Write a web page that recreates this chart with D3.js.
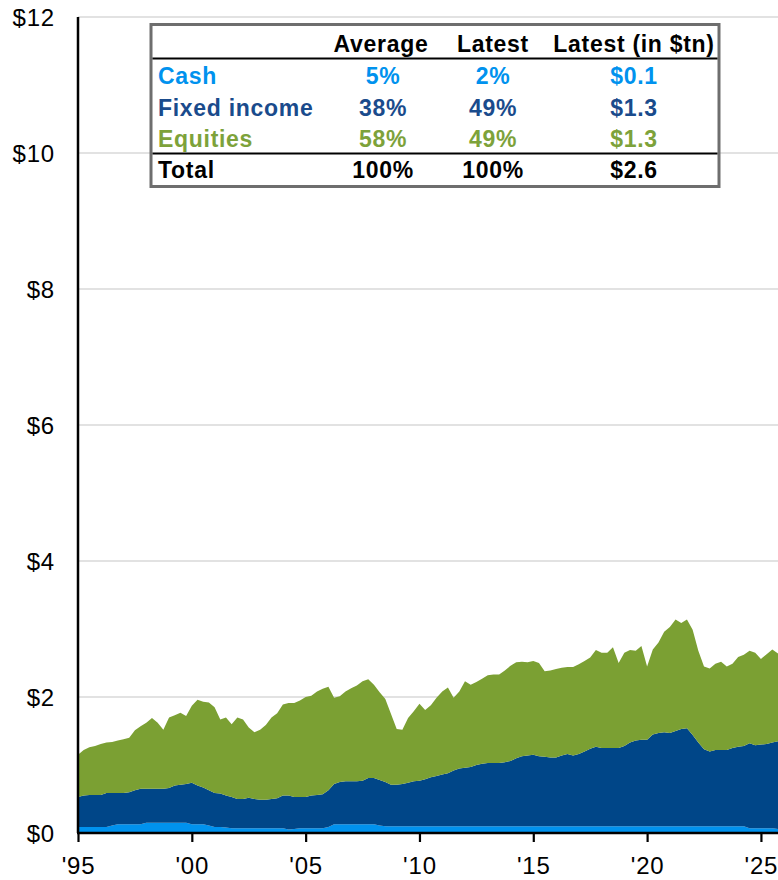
<!DOCTYPE html>
<html>
<head>
<meta charset="utf-8">
<script src="https://cdn.jsdelivr.net/npm/d3@7"></script>
<style>
  html, body { margin: 0; padding: 0; background: #fff; }
  svg { display: block; font-family: "Liberation Sans", Arial, sans-serif; }
</style>
</head>
<body>
<svg id="chart" width="778" height="880"></svg>
<script>
// Quarterly asset allocation, $ trillions, 1995 Q1 onward (one line per year)
const cash = [
  0.09, 0.09, 0.09, 0.09,
  0.09, 0.09, 0.11, 0.13,
  0.13, 0.13, 0.13, 0.13,
  0.15, 0.15, 0.15, 0.15,
  0.15, 0.15, 0.15, 0.15,
  0.13, 0.13, 0.13, 0.11,
  0.09, 0.09, 0.08, 0.07,
  0.07, 0.07, 0.07, 0.07,
  0.07, 0.07, 0.07, 0.07,
  0.07, 0.05, 0.06, 0.07,
  0.07, 0.07, 0.07, 0.07,
  0.09, 0.13, 0.13, 0.13,
  0.13, 0.13, 0.13, 0.13,
  0.13, 0.11, 0.10, 0.10,
  0.10, 0.10, 0.10, 0.10,
  0.10, 0.10, 0.10, 0.10,
  0.10, 0.10, 0.10, 0.10,
  0.10, 0.10, 0.10, 0.10,
  0.10, 0.10, 0.10, 0.10,
  0.10, 0.10, 0.10, 0.10,
  0.10, 0.10, 0.10, 0.10,
  0.10, 0.10, 0.10, 0.10,
  0.10, 0.10, 0.10, 0.10,
  0.10, 0.10, 0.10, 0.10,
  0.10, 0.10, 0.10, 0.10,
  0.10, 0.10, 0.10, 0.10,
  0.10, 0.10, 0.10, 0.10,
  0.10, 0.10, 0.10, 0.10,
  0.10, 0.10, 0.10, 0.10,
  0.10, 0.10, 0.07, 0.07,
  0.07, 0.07, 0.07, 0.06
];

const fixedIncome = [
  0.44, 0.46, 0.47, 0.47,
  0.47, 0.50, 0.48, 0.46,
  0.46, 0.47, 0.50, 0.52,
  0.50, 0.50, 0.50, 0.50,
  0.51, 0.55, 0.56, 0.57,
  0.61, 0.57, 0.54, 0.52,
  0.50, 0.49, 0.47, 0.46,
  0.43, 0.43, 0.45, 0.43,
  0.42, 0.42, 0.43, 0.44,
  0.48, 0.50, 0.47, 0.46,
  0.46, 0.48, 0.49, 0.50,
  0.54, 0.59, 0.62, 0.63,
  0.63, 0.63, 0.64, 0.68,
  0.68, 0.67, 0.65, 0.61,
  0.61, 0.62, 0.64, 0.66,
  0.67, 0.69, 0.72, 0.74,
  0.76, 0.78, 0.82, 0.85,
  0.86, 0.87, 0.90, 0.92,
  0.93, 0.93, 0.93, 0.94,
  0.96, 1.00, 1.03, 1.04,
  1.05, 1.03, 1.02, 1.01,
  1.01, 1.04, 1.06, 1.04,
  1.06, 1.10, 1.14, 1.17,
  1.15, 1.15, 1.15, 1.15,
  1.18, 1.23, 1.26, 1.27,
  1.27, 1.35, 1.37, 1.38,
  1.37, 1.40, 1.43, 1.44,
  1.34, 1.23, 1.13, 1.10,
  1.12, 1.12, 1.12, 1.15,
  1.17, 1.18, 1.25, 1.22,
  1.23, 1.24, 1.26, 1.29
];

const equities = [
  0.62, 0.67, 0.70, 0.72,
  0.75, 0.74, 0.75, 0.77,
  0.79, 0.80, 0.88, 0.92,
  0.97, 1.04, 0.97, 0.87,
  1.04, 1.03, 1.06, 1.00,
  1.13, 1.26, 1.26, 1.29,
  1.26, 1.09, 1.15, 1.07,
  1.20, 1.17, 1.03, 0.98,
  1.03, 1.10, 1.20, 1.25,
  1.34, 1.36, 1.38, 1.42,
  1.47, 1.47, 1.52, 1.55,
  1.52, 1.27, 1.26, 1.32,
  1.37, 1.41, 1.46, 1.45,
  1.37, 1.29, 1.22, 1.04,
  0.82, 0.80, 0.95, 1.03,
  1.13, 1.02, 1.06, 1.15,
  1.22, 1.26, 1.07, 1.13,
  1.27, 1.21, 1.22, 1.25,
  1.29, 1.30, 1.30, 1.35,
  1.40, 1.41, 1.39, 1.37,
  1.38, 1.37, 1.26, 1.28,
  1.30, 1.29, 1.28, 1.30,
  1.32, 1.33, 1.34, 1.42,
  1.40, 1.40, 1.48, 1.25,
  1.37, 1.36, 1.32, 1.38,
  1.08, 1.25, 1.33, 1.48,
  1.56, 1.64, 1.56, 1.60,
  1.55, 1.35, 1.22, 1.22,
  1.27, 1.30, 1.23, 1.24,
  1.32, 1.34, 1.36, 1.36,
  1.26, 1.32, 1.37, 1.29
];

// Quarter start times as fractional years
const startYear = 1995;
const quarters = cash.map((_, i) => startYear + i / 4);

// Axis ticks
const yTicks = [0, 2, 4, 6, 8, 10, 12];
const xTicks = [1995, 2000, 2005, 2010, 2015, 2020, 2025];

// Summary table
const tableHeaders = ["Average", "Latest", "Latest (in $tn)"];
const tableRows = ["Cash", "Fixed income", "Equities", "Total"];
const averageShare = ["5%", "38%", "58%", "100%"];
const latestShare = ["2%", "49%", "49%", "100%"];
const latestTn = ["$0.1", "$1.3", "$1.3", "$2.6"];

const seriesKeys = ["cash", "fixedIncome", "equities"];
const colors = {
  cash: "#0092EE",
  fixedIncome: "#004688",
  equities: "#7BA033",
  total: "#000000"
};
const rowColors = [colors.cash, "#1A4B8C", "#7DA23A", colors.total];

const svg = d3.select("#chart");
const margin = { left: 78, right: 0, top: 17, bottom: 47 };
const W = 778, H = 880;

const x = d3.scaleLinear()
  .domain([quarters[0], quarters[quarters.length - 1]])
  .range([margin.left, W - margin.right]);
const y = d3.scaleLinear().domain([0, 12]).range([H - margin.bottom, margin.top]);

// Horizontal gridlines
svg.append("g")
  .selectAll("line")
  .data(yTicks.filter(d => d > 0))
  .join("line")
  .attr("x1", margin.left).attr("x2", W - margin.right)
  .attr("y1", d => y(d)).attr("y2", d => y(d))
  .attr("stroke", "#d9d9d9").attr("stroke-width", 1.3);

// Stacked areas
const rows = quarters.map((q, i) => ({
  q, cash: cash[i], fixedIncome: fixedIncome[i], equities: equities[i]
}));
const stacked = d3.stack().keys(seriesKeys)(rows);
const area = d3.area()
  .x(d => x(d.data.q))
  .y0(d => y(d[0]))
  .y1(d => y(d[1]));

svg.append("g")
  .selectAll("path")
  .data(stacked)
  .join("path")
  .attr("fill", d => colors[d.key])
  .attr("d", area);

// Y axis
const yAxis = svg.append("g")
  .attr("transform", `translate(${margin.left},0)`)
  .call(d3.axisLeft(y).tickValues(yTicks).tickSize(0).tickPadding(23)
    .tickFormat(d => "$" + d));
yAxis.select(".domain").remove();
yAxis.selectAll("text")
  .attr("fill", "#000")
  .style("font-size", "24px")
  .style("letter-spacing", "0.8px")
  .attr("dy", "0.35em");
svg.append("line")
  .attr("x1", margin.left).attr("x2", margin.left)
  .attr("y1", y(12)).attr("y2", y(0))
  .attr("stroke", "#000").attr("stroke-width", 2.5);

// X axis
const xAxis = svg.append("g")
  .attr("transform", `translate(0,${y(0)})`)
  .call(d3.axisBottom(x).tickValues(xTicks).tickSize(9).tickPadding(15)
    .tickFormat(d => "'" + String(d).slice(2)));
xAxis.select(".domain").remove();
xAxis.selectAll(".tick line").attr("stroke", "#000").attr("stroke-width", 2.2);
xAxis.selectAll("text")
  .attr("fill", "#000")
  .style("font-size", "24px")
  .style("letter-spacing", "0.8px");
svg.append("line")
  .attr("x1", margin.left - 1).attr("x2", W)
  .attr("y1", y(0)).attr("y2", y(0))
  .attr("stroke", "#000").attr("stroke-width", 2.5);

// Summary table
const box = { x: 151, y: 24.5, w: 568, h: 162 };
const table = svg.append("g");
table.append("rect")
  .attr("x", box.x).attr("y", box.y).attr("width", box.w).attr("height", box.h)
  .attr("fill", "#fff").attr("stroke", "#6e6e6e").attr("stroke-width", 3);
[58.5, 153.5].forEach(yy => {
  table.append("line")
    .attr("x1", box.x + 1.5).attr("x2", box.x + box.w - 1.5)
    .attr("y1", yy).attr("y2", yy)
    .attr("stroke", "#000").attr("stroke-width", 2.2);
});

const colX = [381, 493, 634];
const textStyle = sel => sel
  .attr("font-weight", "bold")
  .style("font-size", "23px")
  .style("letter-spacing", "0.7px");

table.selectAll("text.head")
  .data(tableHeaders)
  .join("text")
  .attr("class", "head")
  .attr("x", (d, i) => colX[i])
  .attr("y", 51.5)
  .attr("text-anchor", "middle")
  .attr("fill", "#000")
  .text(d => d)
  .call(textStyle);

const rowY = [84, 115.5, 146.5, 178];
tableRows.forEach((label, r) => {
  const cells = [averageShare[r], latestShare[r], latestTn[r]];
  table.append("text")
    .attr("x", 158).attr("y", rowY[r])
    .attr("fill", rowColors[r])
    .text(label)
    .call(textStyle);
  cells.forEach((v, c) => {
    table.append("text")
      .attr("x", colX[c] + (c === 0 ? 2 : 0)).attr("y", rowY[r])
      .attr("text-anchor", "middle")
      .attr("fill", rowColors[r])
      .text(v)
      .call(textStyle);
  });
});
</script>
</body>
</html>
